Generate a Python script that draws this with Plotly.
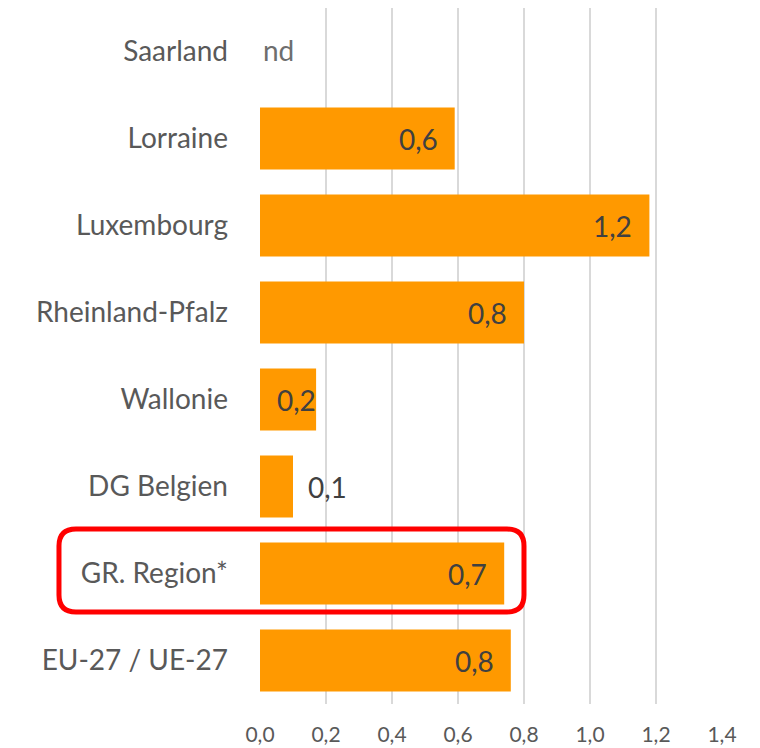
import plotly.graph_objects as go

categories = ["Saarland", "Lorraine", "Luxembourg", "Rheinland-Pfalz", "Wallonie",
              "DG Belgien", "GR. Region*", "EU-27 / UE-27"]
values = [None, 0.59, 1.18, 0.80, 0.17, 0.10, 0.74, 0.76]
labels = ["nd", "0,6", "1,2", "0,8", "0,2", "0,1", "0,7", "0,8"]
label_pos = ["nd", "in", "in", "in", "flush", "out", "in", "in"]
tick_vals = [0, 0.2, 0.4, 0.6, 0.8, 1.0, 1.2, 1.4]

FONT = "Lato"
TXT = "#595959"
LBL = "#404040"

fig = go.Figure()
fig.add_trace(go.Bar(
    y=categories, x=[v if v is not None else 0 for v in values], orientation="h",
    marker=dict(color="#FF9900", line=dict(width=0)),
    hoverinfo="skip",
))

for cat, v, lab, pos in zip(categories, values, labels, label_pos):
    f = dict(family=FONT, size=28, color=LBL)
    if pos == "nd":
        fig.add_annotation(x=0, y=cat, text=lab, showarrow=False, xanchor="left",
                           xshift=1, yshift=2, font=dict(family=FONT, size=28, color="#6E6E6E"))
    elif pos == "in":
        fig.add_annotation(x=v, y=cat, text=lab, showarrow=False, xanchor="right",
                           xshift=-15, font=f)
    elif pos == "flush":
        fig.add_annotation(x=v, y=cat, text=lab, showarrow=False, xanchor="right",
                           xshift=2, font=f)
    else:
        fig.add_annotation(x=v, y=cat, text=lab, showarrow=False, xanchor="left",
                           xshift=13, font=f)

# highlight rounded rectangle around GR. Region row (paper coords)
x0, x1, y0, y1 = -0.4351, 0.5714, 0.1322, 0.2514
rx, ry = 0.0368, 0.0244
path = (f"M {x0+rx},{y0} L {x1-rx},{y0} Q {x1},{y0} {x1},{y0+ry} "
        f"L {x1},{y1-ry} Q {x1},{y1} {x1-rx},{y1} L {x0+rx},{y1} "
        f"Q {x0},{y1} {x0},{y1-ry} L {x0},{y0+ry} Q {x0},{y0} {x0+rx},{y0} Z")
fig.add_shape(type="path", path=path, xref="paper", yref="paper",
              line=dict(color="#FF0000", width=5), fillcolor="rgba(0,0,0,0)")

fig.update_layout(
    width=752, height=740,
    margin=dict(l=252, r=38, t=0, b=44, autoexpand=False),
    plot_bgcolor="white", paper_bgcolor="white",
    separators=",.",
    bargap=0.287,
    showlegend=False,
    font=dict(family=FONT, color=TXT),
    xaxis=dict(range=[0, 1.4], tickvals=tick_vals, tickformat=".1f",
               showgrid=True, gridcolor="#D9D9D9", gridwidth=2,
               zeroline=False, showline=False, ticks="", automargin=False,
               tickfont=dict(size=21, color=TXT), ticklabelstandoff=16),
    yaxis=dict(categoryorder="array", categoryarray=categories, autorange="reversed",
               showgrid=False, showline=False, ticks="", automargin=False,
               tickfont=dict(size=28, color=TXT), ticklabelstandoff=31),
)

fig.write_html("out.html")
